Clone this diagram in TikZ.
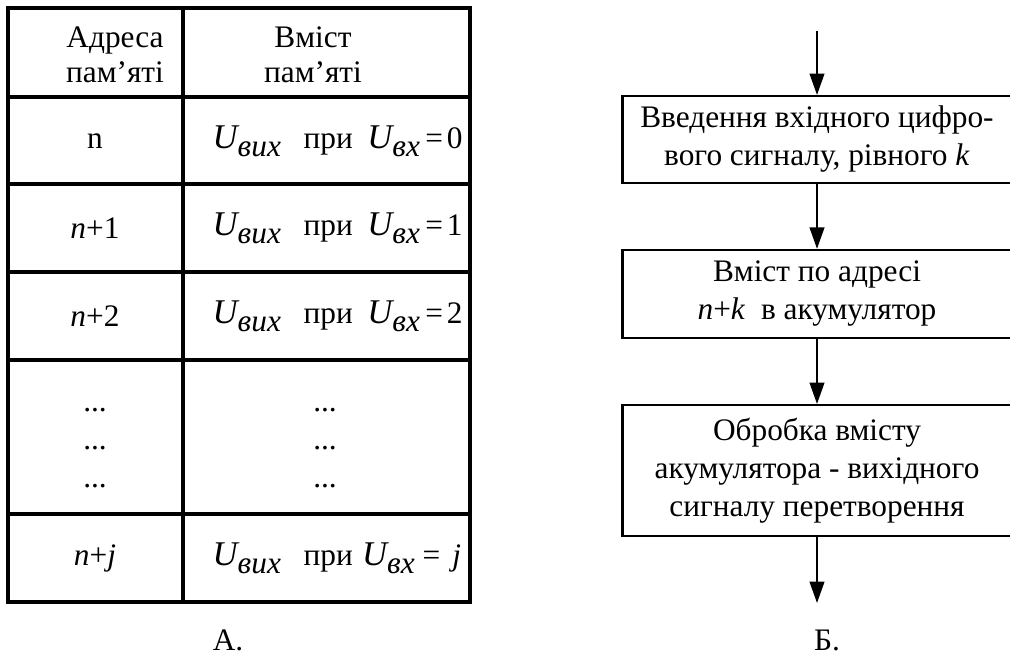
\documentclass[tikz,border=0pt]{standalone}
\usepackage{fontspec}
\IfFontExistsTF{LiberationSerif-Regular.ttf}
  {\setmainfont{LiberationSerif}[Extension=.ttf, UprightFont=*-Regular,
     ItalicFont=*-Italic, BoldFont=*-Bold, BoldItalicFont=*-BoldItalic]}
  {\setmainfont{Liberation Serif}}
\usetikzlibrary{arrows.meta}

\newcommand{\Uvyh}{{\fontsize{26}{26}\selectfont\itshape U}\raisebox{-6pt}{\fontsize{23.5}{23.5}\selectfont\itshape вих}}
\newcommand{\Uvh}{{\fontsize{26}{26}\selectfont\itshape U}\raisebox{-6pt}{\fontsize{23.5}{23.5}\selectfont\itshape вх}}

\begin{document}
\begin{tikzpicture}[x=0.75pt, y=-0.75pt, font=\fontsize{23.5}{28.5}\selectfont,
  blok/.style={draw, line width=1.8pt, minimum width=292pt, align=center, inner sep=0pt},
  strilka/.style={-{Triangle[length=16pt,width=11pt]}, line width=1.4pt},
  sitka/.style={line width=2.4pt},
  shapka/.style={align=center, font=\fontsize{23.5}{26}\selectfont}]
\useasboundingbox (0,0) rectangle (1010,661);

% A. memory table
\draw[sitka] (8,8) rectangle (470,602);
\draw[sitka] (183,8) -- (183,602);
\foreach \y in {97,184,272,360,514} \draw[sitka] (8,\y) -- (470,\y);

\node[shapka] (adr) at (115,55) {Адреса\\пам’яті};
\node[shapka] (vmist) at (313,55) {Вміст\\пам’яті};

\node (a0) at (95,141) {n};
\node (a1) at (95,228) {\textit{n}+1};
\node (a2) at (95,316) {\textit{n}+2};
\node (aj) at (95,558) {\textit{n}+\textit{j}};

\node[anchor=west] (v0) at (208,141) {\Uvyh\hspace{17pt}при\hspace{11pt}\Uvh\hspace{4pt}=\hspace{3pt}0};
\node[anchor=west] (v1) at (208,228) {\Uvyh\hspace{17pt}при\hspace{11pt}\Uvh\hspace{4pt}=\hspace{3pt}1};
\node[anchor=west] (v2) at (208,316) {\Uvyh\hspace{17pt}при\hspace{11pt}\Uvh\hspace{4pt}=\hspace{3pt}2};
\node[anchor=west] (vj) at (208,558) {\Uvyh\hspace{17pt}при\hspace{7pt}\Uvh\hspace{6pt}=\hspace{9pt}\textit{j}};

% dots in the gap
\foreach \y [count=\i] in {410,448,486} {
  \node (dl\i) at (95,\y) {...};
  \node (dr\i) at (325,\y) {...};
}

% B. algorithm
\coordinate (vhid) at (817,31);
\node[blok, minimum height=65pt] (vvod) at (817,139.5) {Введення вхідного цифро-\\вого сигналу, рівного \textit{k}};
\node[blok, minimum height=66pt] (vmpo) at (817,294) {Вміст по адресі\\\textit{n}+\textit{k}\ \ в акумулятор};
\node[blok, minimum height=98pt] (obr) at (817,470.5) {Обробка вмісту\\акумулятора - вихідного\\сигналу перетворення};
\coordinate (vyhid) at (817,603);

\draw[strilka] (vhid) -- (vvod);
\draw[strilka] (vvod) -- (vmpo);
\draw[strilka] (vmpo) -- (obr);
\draw[strilka] (obr) -- (vyhid);

\node (pa) at (228,640) {А.};
\node (pb) at (827,640) {Б.};
\end{tikzpicture}
\end{document}
